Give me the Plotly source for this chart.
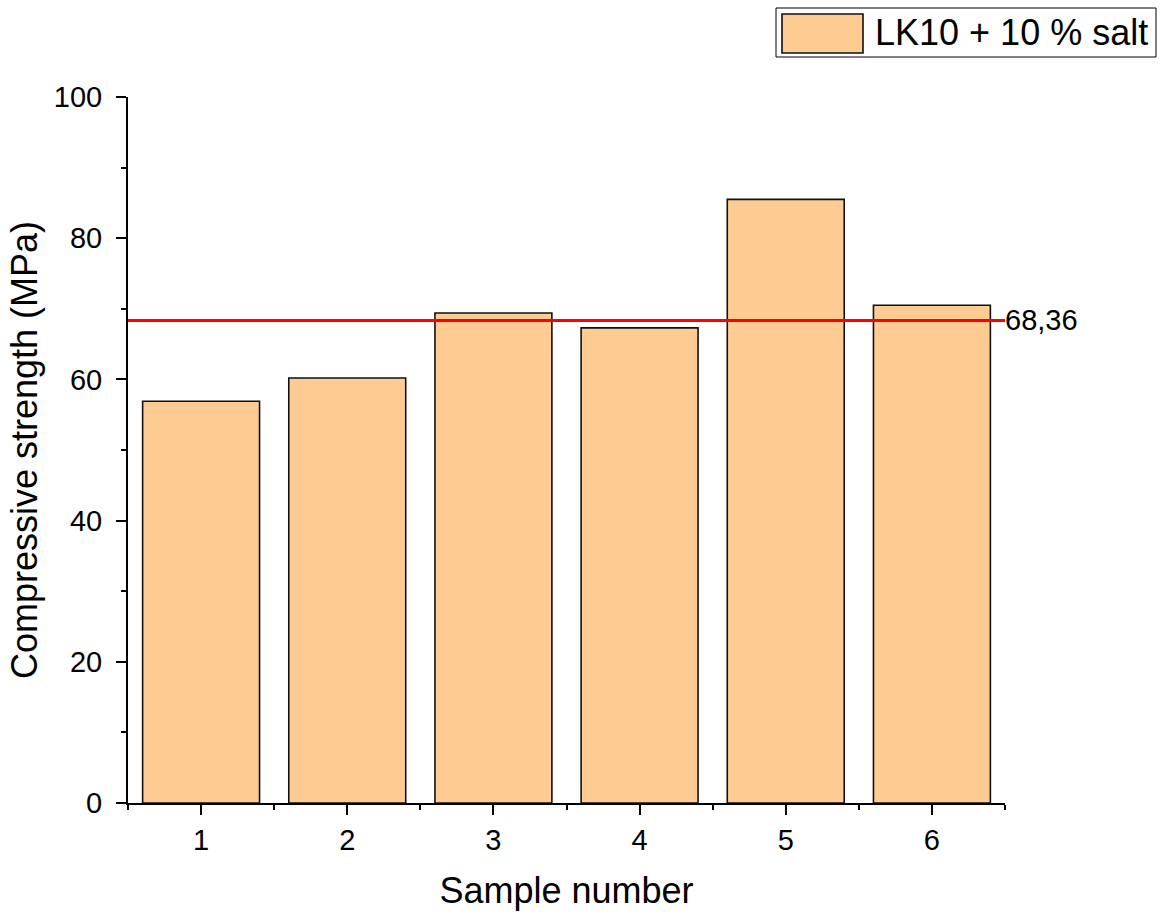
import plotly.graph_objects as go

samples = [1, 2, 3, 4, 5, 6]
strength = [56.9, 60.2, 69.4, 67.3, 85.5, 70.5]
mean_value = 68.36
mean_label = "68,36"
series_name = "LK10 + 10 % salt"

W, H = 1165, 915
ML, MR, MT, MB = 128, 160, 97, 112
PW, PH = W - ML - MR, H - MT - MB

def px(x):
    return (x - ML) / PW

def py(y):
    return (H - MB - y) / PH

FONT = "Liberation Sans, Arial, sans-serif"
BAR_COLOR = "#FECC92"

fig = go.Figure()
fig.add_trace(go.Bar(
    x=samples, y=strength, name=series_name, width=0.8,
    marker=dict(color=BAR_COLOR, line=dict(color="#111111", width=1.6)),
    showlegend=False,
))
fig.add_trace(go.Scatter(
    x=[0.5, 6.5], y=[mean_value, mean_value], mode="lines",
    line=dict(color="#FF0000", width=3), showlegend=False, cliponaxis=False,
))
fig.add_annotation(
    x=6.5, y=mean_value, xref="x", yref="y", text=mean_label,
    showarrow=False, xanchor="left", yanchor="middle", xshift=-2,
    font=dict(family=FONT, size=29, color="black"),
)

# legend drawn manually
fig.add_shape(type="rect", xref="paper", yref="paper",
              x0=px(776), x1=px(1156), y0=py(57), y1=py(8),
              line=dict(color="black", width=1), fillcolor="white", layer="above")
fig.add_shape(type="rect", xref="paper", yref="paper",
              x0=px(782), x1=px(863), y0=py(53), y1=py(14),
              line=dict(color="#111111", width=1.6), fillcolor=BAR_COLOR, layer="above")
fig.add_annotation(
    x=px(873), y=py(33), xref="paper", yref="paper", text=series_name,
    showarrow=False, xanchor="left", yanchor="middle",
    font=dict(family=FONT, size=36, color="black"),
)

axis_common = dict(
    showline=True, linecolor="black", linewidth=2, showgrid=False, zeroline=False,
    ticks="outside", ticklen=10, tickwidth=2, tickcolor="black",
    tickfont=dict(family=FONT, size=29, color="black"),
)
fig.update_xaxes(
    range=[0.5, 6.5], tickmode="linear", tick0=1, dtick=1,
    minor=dict(tick0=0.5, dtick=1, ticks="outside", ticklen=5, tickwidth=2, tickcolor="black"),
    title=dict(text="Sample number", font=dict(family=FONT, size=36, color="black"), standoff=23),
    **axis_common,
)
fig.update_yaxes(
    range=[0, 100], tickmode="linear", tick0=0, dtick=20, ticklabelstandoff=8,
    minor=dict(tick0=0, dtick=10, ticks="outside", ticklen=5, tickwidth=2, tickcolor="black"),
    title=dict(text="Compressive strength (MPa)", font=dict(family=FONT, size=36, color="black"), standoff=5),
    **axis_common,
)
fig.update_layout(
    width=W, height=H, margin=dict(l=ML, r=MR, t=MT, b=MB),
    plot_bgcolor="white", paper_bgcolor="white", bargap=0.2,
    font=dict(family=FONT, color="black"),
)
fig.write_html("out.html")
